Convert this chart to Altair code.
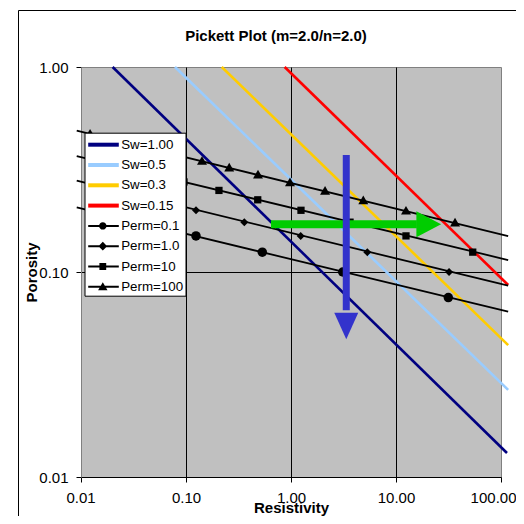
import altair as alt
import pandas as pd

# ---------------- data ----------------
sw_labels = ["Sw=1.00", "Sw=0.5", "Sw=0.3", "Sw=0.15"]
sw_res_start = [0.020, 0.0785, 0.219, 0.87]
sw_por_start = [1.0, 1.0, 1.0, 1.0]
sw_res_end = [114.0, 117.0, 117.0, 117.0]
sw_por_end = [0.0131, 0.0266, 0.044, 0.0864]

perm_labels = ["Perm=0.1", "Perm=1.0", "Perm=10", "Perm=100"]
perm_res_start = [0.0091, 0.0091, 0.0091, 0.0091]
perm_por_start = [0.2068, 0.279, 0.368, 0.489]
perm_res_end = [117.0, 117.0, 117.0, 117.0]
perm_por_end = [0.064, 0.0857, 0.1144, 0.1498]

perm01_res = [0.1245, 0.533, 3.11, 31.5]
perm01_por = [0.15, 0.125, 0.10, 0.075]
perm1_res = [0.1245, 0.359, 1.237, 5.33, 32.0]
perm1_por = [0.20, 0.175, 0.15, 0.125, 0.10]
perm10_res = [0.0957, 0.206, 0.482, 1.245, 3.65, 12.45, 53.8]
perm10_por = [0.275, 0.25, 0.225, 0.20, 0.175, 0.15, 0.125]
perm100_res = [0.0122, 0.142, 0.258, 0.485, 0.978, 2.11, 4.88, 12.45, 36.5]
perm100_por = [0.475, 0.35, 0.325, 0.30, 0.275, 0.25, 0.225, 0.20, 0.175]

# annotation arrows
down_arrow_res = 3.36
down_arrow_por = [0.372, 0.065]
down_head_por = 0.0545
right_arrow_por = 0.171
right_arrow_res = [0.645, 15.8]
right_head_res = 20.5

x_ticks = [0.01, 0.1, 1, 10, 100]
y_ticks = [0.01, 0.1, 1]

title_text = "Pickett Plot (m=2.0/n=2.0)"
x_title = "Resistivity"
y_title = "Porosity"

# ---------------- styles ----------------
FONT = "Liberation Sans"
sw_colors = ["#000080", "#99CCFF", "#FFCC00", "#FF0000"]
perm_shapes = ["circle", "diamond", "square", "triangle-up"]
perm_sizes = [90, 64, 53, 100]
marker_sets = [(perm01_res, perm01_por), (perm1_res, perm1_por),
               (perm10_res, perm10_por), (perm100_res, perm100_por)]


def circ(cx, cy, r):
    k = 0.5523 * r
    return (f"M{cx},{cy-r}C{cx+k},{cy-r} {cx+r},{cy-k} {cx+r},{cy}"
            f"C{cx+r},{cy+k} {cx+k},{cy+r} {cx},{cy+r}"
            f"C{cx-k},{cy+r} {cx-r},{cy+k} {cx-r},{cy}"
            f"C{cx-r},{cy-k} {cx-k},{cy-r} {cx},{cy-r}Z")


sw_sym = "M-0.83,-0.2H2.23V0.2H-0.83Z"
pl = "M-0.83,-0.1H2.23V0.1H-0.83Z"
legend_paths = [sw_sym] * 4 + [
    pl + circ(0.63, 0, 0.37),
    pl + "M0.63,-0.44L1.07,0L0.63,0.44L0.19,0Z",
    pl + "M0.29,-0.34H0.97V0.34H0.29Z",
    pl + "M0.63,-0.45L1.1,0.35L0.16,0.35Z",
]
legend_colors = sw_colors + ["#000000"] * 4
all_labels = sw_labels + perm_labels

xs = alt.Scale(type="log", domain=[0.01, 100], nice=False)
ys = alt.Scale(type="log", domain=[0.01, 1], nice=False)

x_axis = alt.Axis(
    values=x_ticks, format=".2f", title=x_title,
    labelFont=FONT, labelFontSize=15, labelColor="black",
    labelBaseline="alphabetic", labelPadding=20,
    labelFlush=True, labelFlushOffset=15,
    labelOverlap=False, tickSize=5, tickColor="black", domainColor="black",
    titleFont=FONT, titleFontSize=15, titleFontWeight="bold", titleColor="black",
    titleY=35.5, titleBaseline="alphabetic",
    grid=True,
    gridColor={"condition": {"test": "datum.value > 0.02 && datum.value < 50",
                             "value": "black"}, "value": "transparent"},
)
y_axis = alt.Axis(
    values=y_ticks, format=".2f", title=y_title,
    labelFont=FONT, labelFontSize=15, labelColor="black", labelPadding=8,
    labelOverlap=False, labelFlush=False, tickSize=5, tickColor="black",
    domainColor="#808080",
    titleFont=FONT, titleFontSize=15, titleFontWeight="bold", titleColor="black",
    titleAngle=270, titleX=-44.3, titleY=205, titleAlign="center",
    titleBaseline="alphabetic",
    grid=True,
    gridColor={"condition": {"test": "datum.value > 0.02 && datum.value < 0.5",
                             "value": "black"}, "value": "transparent"},
)
X = alt.X("res:Q", scale=xs, axis=x_axis)
Y = alt.Y("por:Q", scale=ys, axis=y_axis)

layers = []

# outer chart frame
frame = pd.DataFrame({"k": [0]})
layers.append(alt.Chart(frame).mark_rule(color="black", strokeWidth=1).encode(
    x=alt.value(-62.5), y=alt.value(-56.5), y2=alt.value(470)))
layers.append(alt.Chart(frame).mark_rule(color="black", strokeWidth=1).encode(
    x=alt.value(-62.5), x2=alt.value(450), y=alt.value(-56.5)))

# Sw lines
for i, lab in enumerate(sw_labels):
    df = pd.DataFrame({"res": [sw_res_start[i], sw_res_end[i]],
                       "por": [sw_por_start[i], sw_por_end[i]]})
    layers.append(alt.Chart(df).mark_line(color=sw_colors[i], strokeWidth=2.6,
                                          clip=False).encode(x=X, y=Y))

# Perm lines
rows = []
for i, lab in enumerate(perm_labels):
    rows.append({"series": lab, "res": perm_res_start[i], "por": perm_por_start[i]})
    rows.append({"series": lab, "res": perm_res_end[i], "por": perm_por_end[i]})
perm_df = pd.DataFrame(rows)
layers.append(alt.Chart(perm_df).mark_line(color="black", strokeWidth=1.8,
                                           clip=False).encode(
    x=X, y=Y, detail="series:N"))

# Perm markers
for i, (rr, pp) in enumerate(marker_sets):
    df = pd.DataFrame({"res": rr, "por": pp})
    layers.append(alt.Chart(df).mark_point(
        shape=perm_shapes[i], filled=True, color="black", opacity=1,
        size=perm_sizes[i], strokeWidth=0).encode(x=X, y=Y))

# green arrow
g_df = pd.DataFrame({"res": [right_arrow_res[0]], "res2": [right_arrow_res[1]],
                     "por": [right_arrow_por]})
layers.append(alt.Chart(g_df).mark_rule(color="#00CC00", strokeWidth=8,
                                        strokeCap="butt").encode(
    x=X, x2="res2:Q", y=Y))
gh_df = pd.DataFrame({"res": [right_head_res], "por": [right_arrow_por]})
layers.append(alt.Chart(gh_df).mark_point(
    shape="M-0.95,-1L0.95,0L-0.95,1Z", filled=True, color="#00CC00",
    opacity=1, size=676, strokeWidth=0).encode(x=X, y=Y))

# blue arrow
b_df = pd.DataFrame({"res": [down_arrow_res], "por": [down_arrow_por[0]],
                     "por2": [down_arrow_por[1]]})
layers.append(alt.Chart(b_df).mark_rule(color="#3333CC", strokeWidth=7,
                                        strokeCap="butt").encode(
    x=X, y=Y, y2="por2:Q"))
bh_df = pd.DataFrame({"res": [down_arrow_res], "por": [down_head_por]})
layers.append(alt.Chart(bh_df).mark_point(
    shape="M-1,-1.1L1,-1.1L0,1.1Z", filled=True, color="#3333CC",
    opacity=1, size=576, strokeWidth=0).encode(x=X, y=Y))

# legend definition layer (points lie outside the axis domain and are clipped)
leg = alt.Legend(title=None, orient="none", legendX=3.5, legendY=65.7,
                 padding=2, rowPadding=3.3, symbolSize=400, symbolStrokeWidth=0,
                 symbolOffset=0, labelOffset=14.7, labelFont=FONT,
                 labelFontSize=13.33, labelColor="black", labelLimit=300,
                 fillColor="white", strokeColor="black", zindex=1)
leg_df = pd.DataFrame({"series": all_labels, "res": [1e-4] * 8, "por": [1e-4] * 8})
layers.append(alt.Chart(leg_df).mark_point(filled=True, opacity=1, clip=True,
                                           strokeWidth=0).encode(
    x=X, y=Y,
    color=alt.Color("series:N", scale=alt.Scale(domain=all_labels, range=legend_colors),
                    legend=leg),
    shape=alt.Shape("series:N", scale=alt.Scale(domain=all_labels, range=legend_paths),
                    legend=leg),
))

chart = alt.layer(*layers).properties(
    width=420, height=410,
    title=alt.Title(title_text, font=FONT, fontSize=15, fontWeight="bold",
                    color="black", anchor="middle", frame="group",
                    baseline="alphabetic", offset=0, dy=46, dx=-15),
    autosize=alt.AutoSizeParams(type="none"),
    padding={"left": 73, "top": 59, "right": 15, "bottom": 39},
    background="white",
).configure_view(fill="#C0C0C0", stroke="#808080", strokeWidth=1)

chart.save("out.html", embed_options={"renderer": "svg", "actions": False})
